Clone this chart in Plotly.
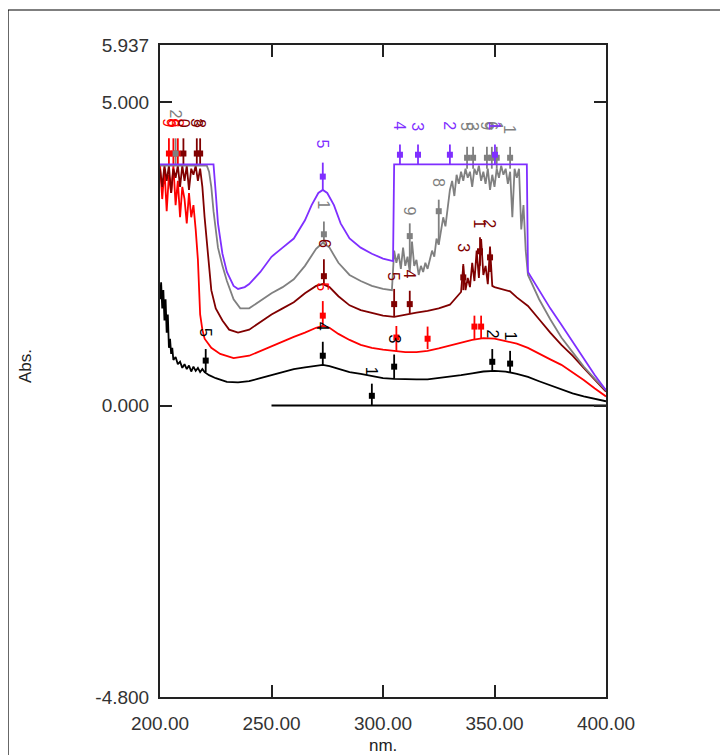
import plotly.graph_objects as go

# ---------------- data ----------------
black_wl = [200, 200.5, 201, 201.5, 202, 202.5, 203, 203.5, 204, 204.5, 205, 205.5, 206, 207, 208, 209, 210,
            211, 212, 213, 214, 215, 216, 217, 218, 219, 220, 222, 225, 230, 235, 240, 245, 250, 255, 260, 265,
            270, 273, 276, 280, 285, 290, 295, 300, 305, 310, 315, 320, 325, 330, 335, 340, 345, 350, 355, 360,
            365, 370, 375, 380, 385, 390, 395, 400]
black_abs = [1.75, 2.03, 1.6, 1.9, 1.4, 1.75, 1.2, 1.5, 0.95, 1.1, 0.85, 0.95, 0.75, 0.8, 0.68, 0.72, 0.62,
             0.68, 0.6, 0.66, 0.56, 0.64, 0.57, 0.62, 0.55, 0.6, 0.55, 0.5, 0.45, 0.39, 0.38, 0.4, 0.45, 0.5, 0.55,
             0.6, 0.63, 0.66, 0.67, 0.65, 0.6, 0.55, 0.52, 0.48, 0.45, 0.44, 0.43, 0.43, 0.43, 0.45, 0.47, 0.5,
             0.53, 0.56, 0.57, 0.56, 0.52, 0.47, 0.4, 0.33, 0.27, 0.2, 0.15, 0.11, 0.07]

red_wl = [200, 201, 202, 203, 204, 205, 206, 207, 208, 209, 210, 211, 212, 213, 214, 215, 216, 217, 218, 219,
          220, 223, 227, 233, 240, 245, 250, 255, 260, 265, 270, 273, 276, 280, 285, 290, 295, 300, 305, 310,
          315, 320, 325, 330, 335, 340, 345, 350, 355, 360, 365, 370, 375, 380, 385, 390, 395, 400]
red_abs = [3.97, 3.4, 3.9, 3.2, 3.8, 3.5, 3.95, 3.3, 3.7, 3.1, 3.6, 3.4, 3.0, 3.5, 3.1, 3.3, 2.9, 2.4, 1.5, 1.25,
           1.1, 0.95, 0.85, 0.78, 0.82, 0.9, 0.98, 1.06, 1.13, 1.2, 1.28, 1.31, 1.28, 1.18, 1.08, 1.0, 0.95, 0.92,
           0.9, 0.88, 0.88, 0.9, 0.94, 0.99, 1.04, 1.08, 1.11, 1.1, 1.06, 1.02, 0.95, 0.85, 0.76, 0.67, 0.55, 0.42,
           0.28, 0.15]

dred_wl = [200, 201, 202, 203, 204, 205, 206, 207, 208, 209, 210, 211, 212, 213, 214, 215, 216, 217, 218, 219,
           220, 221, 222, 223, 225, 228, 231, 235, 240, 245, 250, 255, 260, 265, 270, 273, 276, 280, 285, 290,
           295, 300, 305, 310, 315, 320, 325, 330, 333, 335, 336, 337, 338, 339, 340, 341, 342, 343, 344, 345,
           346, 347, 348, 349, 350, 352, 354, 357, 360, 365, 370, 375, 380, 385, 390, 395, 400]
dred_abs = [3.9, 3.6, 3.95, 3.7, 3.95, 3.5, 3.9, 3.75, 3.95, 3.6, 3.95, 3.7, 3.95, 3.55, 3.9, 3.8, 3.95, 3.7,
            3.9, 3.6, 3.1, 2.7, 2.2, 1.9, 1.6, 1.4, 1.25, 1.2, 1.25, 1.38, 1.5, 1.6, 1.7, 1.85, 1.97, 2.0, 1.95,
            1.8, 1.65, 1.57, 1.52, 1.48, 1.46, 1.5, 1.53, 1.56, 1.6, 1.66, 1.78, 1.87, 2.3, 1.9, 2.1, 1.95, 2.35,
            2.05, 2.55, 2.1, 2.74, 2.15, 2.3, 2.0, 2.6, 1.97, 1.95, 1.93, 1.92, 1.88, 1.78, 1.64, 1.42, 1.2, 1.0,
            0.82, 0.62, 0.42, 0.23]

gray_wl = [200, 221, 222, 223, 224, 225, 226, 228, 230, 233, 236, 240, 245, 250, 255, 260, 265, 270, 273, 276,
           280, 285, 290, 295, 300, 304,
           305, 306, 307, 308, 309, 310, 311, 312, 313, 314, 315, 316, 317, 318, 319, 320, 321, 322, 323, 324,
           325, 326, 327, 328, 329, 330, 331, 332, 333, 334, 335, 336, 337, 338, 339, 340, 341, 342, 343, 344,
           345, 346, 347, 348, 349, 350, 351, 352, 353, 354, 355, 356, 357, 358, 359, 360, 361, 362, 363, 364,
           365, 370, 375, 380, 385, 390, 395, 400]
gray_abs = [3.95, 3.95, 3.85, 3.6, 3.2, 2.9, 2.6, 2.3, 2.05, 1.75, 1.6, 1.6, 1.72, 1.85, 1.95, 2.08, 2.3, 2.58,
            2.68, 2.6, 2.35, 2.15, 2.05, 1.97, 1.92, 1.9,
            2.55, 2.35, 2.5, 2.25, 2.6, 2.3, 2.45, 2.2, 2.7, 2.3, 2.4, 2.15, 2.3, 2.2, 2.35, 2.25, 2.4, 2.55,
            2.45, 2.75, 2.65, 2.9, 3.1, 2.95, 3.3, 3.55, 3.7, 3.45, 3.8, 3.65, 3.85, 3.7, 3.9, 3.75, 3.85, 3.6,
            3.9, 3.8, 3.95, 3.7, 3.85, 3.65, 3.9, 3.55, 3.8, 3.6, 3.9, 3.75, 3.95, 3.8, 3.9, 3.65, 3.85, 3.1,
            3.9, 3.75, 3.9, 2.9, 3.3, 2.55,
            2.15, 1.75, 1.42, 1.12, 0.88, 0.64, 0.44, 0.25]

purple_wl = [200, 224, 225, 226, 228, 230, 233, 235, 238, 240, 245, 250, 255, 260, 265, 268, 271, 273, 275, 278,
             281, 285, 290, 295, 300, 304.5, 305, 364.5, 365, 370, 375, 380, 385, 390, 395, 400]
purple_abs = [3.97, 3.97, 3.5, 3.0, 2.5, 2.2, 1.97, 1.92, 1.95, 2.0, 2.2, 2.45, 2.6, 2.75, 3.05, 3.3, 3.5, 3.55,
              3.5, 3.3, 3.0, 2.75, 2.6, 2.5, 2.42, 2.38, 3.97, 3.97, 2.2, 1.9, 1.6, 1.33, 1.05, 0.78, 0.5, 0.25]

baseline_wl = [250, 400]
baseline_abs = [0.0, 0.0]

# peak picks: wavelength, line bottom, marker, line top, label, label height
black_pk_wl = [220.5, 273, 305, 295, 349, 357]
black_pk_bot = [0.55, 0.66, 0.44, 0.0, 0.57, 0.55]
black_pk_mark = [0.74, 0.82, 0.64, 0.16, 0.72, 0.69]
black_pk_top = [0.93, 1.05, 0.84, 0.36, 0.93, 0.9]
black_pk_lab = ["5", "4", "3", "1", "2", "1"]
black_pk_laby = [1.2, 1.3, 1.1, 0.56, 1.18, 1.15]

red_pk_wl = [204, 206, 208, 273, 306, 320, 341, 344]
red_pk_bot = [3.97, 3.97, 3.97, 1.31, 0.9, 0.93, 1.08, 1.1]
red_pk_mark = [4.15, 4.15, 4.15, 1.48, 1.12, 1.1, 1.3, 1.3]
red_pk_top = [4.4, 4.4, 4.4, 1.72, 1.31, 1.3, 1.48, 1.48]
red_pk_lab = ["9", "6", "8", "5", "", "", "", ""]
red_pk_laby = [4.65, 4.65, 4.65, 1.95, 1.5, 1.5, 1.7, 1.7]

dred_pk_wl = [210.5, 216.5, 218, 273.5, 305, 312, 336, 343.5, 348]
dred_pk_bot = [3.97, 3.97, 3.97, 2.0, 1.46, 1.52, 1.9, 2.3, 2.2]
dred_pk_mark = [4.15, 4.15, 4.15, 2.13, 1.67, 1.67, 2.11, 2.54, 2.44]
dred_pk_top = [4.4, 4.4, 4.4, 2.41, 1.92, 1.89, 2.33, 2.77, 2.62]
dred_pk_lab = ["0", "3", "8", "6", "5", "4", "3", "1", "2"]
dred_pk_laby = [4.65, 4.65, 4.65, 2.66, 2.13, 2.16, 2.6, 3.0, 3.0]

gray_pk_wl = [207, 273.5, 312, 325, 337.7, 340.4, 346.6, 348.8, 351, 357]
gray_pk_bot = [3.97, 2.68, 2.3, 2.65, 3.9, 3.9, 3.9, 3.9, 3.9, 3.9]
gray_pk_mark = [4.15, 2.82, 2.79, 3.2, 4.08, 4.08, 4.08, 4.08, 4.08, 4.08]
gray_pk_top = [4.4, 3.03, 3.0, 3.39, 4.26, 4.26, 4.26, 4.26, 4.26, 4.26]
gray_pk_lab = ["2", "1", "9", "8", "5", "3", "9", "6", "1", "1"]
gray_pk_laby = [4.8, 3.3, 3.2, 3.67, 4.6, 4.6, 4.6, 4.6, 4.6, 4.55]

purple_pk_wl = [273, 307.6, 315.7, 330, 350.2]
purple_pk_bot = [3.55, 3.97, 3.97, 3.97, 3.97]
purple_pk_mark = [3.77, 4.13, 4.13, 4.13, 4.13]
purple_pk_top = [4.0, 4.3, 4.3, 4.3, 4.3]
purple_pk_lab = ["5", "4", "3", "2", "1"]
purple_pk_laby = [4.3, 4.6, 4.6, 4.6, 4.6]

x_ticks = [200, 250, 300, 350, 400]
x_tick_text = ["200.00", "250.00", "300.00", "350.00", "400.00"]
y_ticks = [-4.8, 0.0, 5.0, 5.937]
y_tick_text = ["-4.800", "0.000", "5.000", "5.937"]

# ---------------- figure ----------------
series = [
    ("black", black_wl, black_abs, black_pk_wl, black_pk_bot, black_pk_mark, black_pk_top, black_pk_lab, black_pk_laby),
    ("#ff0000", red_wl, red_abs, red_pk_wl, red_pk_bot, red_pk_mark, red_pk_top, red_pk_lab, red_pk_laby),
    ("#800000", dred_wl, dred_abs, dred_pk_wl, dred_pk_bot, dred_pk_mark, dred_pk_top, dred_pk_lab, dred_pk_laby),
    ("#808080", gray_wl, gray_abs, gray_pk_wl, gray_pk_bot, gray_pk_mark, gray_pk_top, gray_pk_lab, gray_pk_laby),
    ("#7f2fff", purple_wl, purple_abs, purple_pk_wl, purple_pk_bot, purple_pk_mark, purple_pk_top, purple_pk_lab, purple_pk_laby),
]

fig = go.Figure()
fig.add_trace(go.Scatter(x=baseline_wl, y=baseline_abs, mode="lines",
                         line=dict(color="black", width=1.8), showlegend=False, hoverinfo="skip"))

annotations = []
for color, wl, ab, pw, pb, pm, pt, pl, ply in series:
    fig.add_trace(go.Scatter(x=wl, y=ab, mode="lines", line=dict(color=color, width=1.8),
                             showlegend=False))
    lx, ly = [], []
    for x, b, t in zip(pw, pb, pt):
        lx += [x, x, None]
        ly += [b, t, None]
    fig.add_trace(go.Scatter(x=lx, y=ly, mode="lines", line=dict(color=color, width=1.8),
                             showlegend=False, hoverinfo="skip"))
    fig.add_trace(go.Scatter(x=pw, y=pm, mode="markers",
                             marker=dict(symbol="square", size=6, color=color),
                             showlegend=False))
    for x, lab, yy in zip(pw, pl, ply):
        if lab:
            annotations.append(dict(x=x, y=yy, text=lab, showarrow=False, textangle=90,
                                    font=dict(family="Liberation Sans", size=16, color=color),
                                    xref="x", yref="y"))

# axis titles (plot area: 446 x 652 px)
annotations.append(dict(text="nm.", x=(383 - 160) / 446, y=(697 - 745) / 652, xref="paper", yref="paper",
                        showarrow=False, xanchor="center", yanchor="middle",
                        font=dict(family="Liberation Sans", size=17, color="#222")))
annotations.append(dict(text="Abs.", x=(25 - 160) / 446, y=(697 - 366) / 652, xref="paper", yref="paper",
                        showarrow=False, textangle=-90, xanchor="center", yanchor="middle",
                        font=dict(family="Liberation Sans", size=17, color="#222")))

axis_common = dict(showgrid=False, zeroline=False, showline=True, linecolor="#222", linewidth=2,
                   mirror="ticks", ticks="inside", ticklen=12, tickwidth=2, tickcolor="#222",
                   tickfont=dict(family="Liberation Sans", size=19, color="#333"))

fig.update_layout(
    width=720, height=747,
    margin=dict(l=152, r=122, t=37, b=58),
    plot_bgcolor="white", paper_bgcolor="white",
    xaxis=dict(range=[200, 400], tickvals=x_ticks, ticktext=x_tick_text, ticklabelstandoff=8, **axis_common),
    yaxis=dict(range=[-4.8, 5.937], tickvals=y_ticks, ticktext=y_tick_text, ticklabelstandoff=5, **axis_common),
    annotations=annotations,
    shapes=[
        dict(type="line", xref="paper", yref="paper", x0=(8 - 160) / 446, x1=1.4,
             y0=(697 - 10) / 652, y1=(697 - 10) / 652, line=dict(color="black", width=1.2)),
        dict(type="line", xref="paper", yref="paper", x0=(8 - 160) / 446, x1=(8 - 160) / 446,
             y0=(697 - 10) / 652, y1=-0.2, line=dict(color="black", width=1.2)),
    ],
)

fig.write_html("out.html")
